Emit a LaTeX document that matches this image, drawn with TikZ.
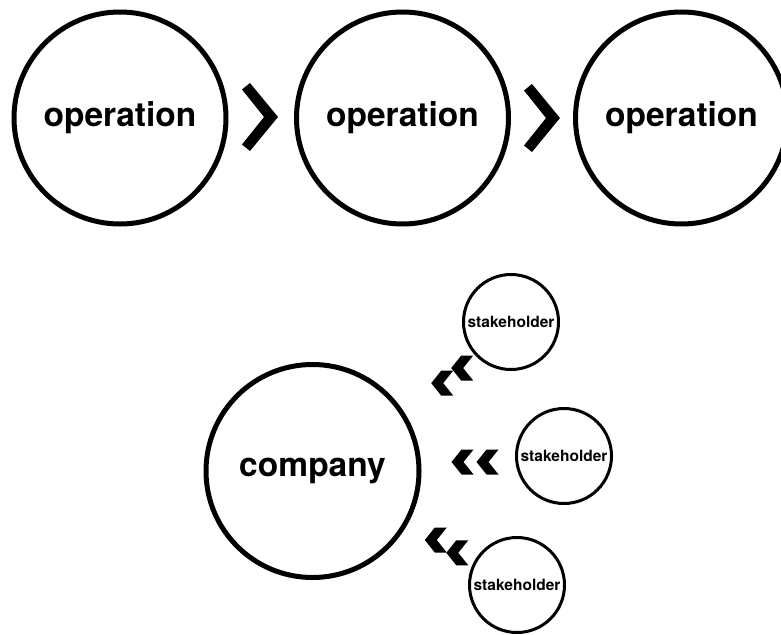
\documentclass[tikz,border=0pt]{standalone}
\usepackage{fontspec}
\setmainfont{TeX Gyre Heros}
\begin{document}
\begin{tikzpicture}[x=1pt,y=-1pt,
  bigring/.style={circle, draw, line width=5pt, inner sep=0pt, minimum size=212pt,
    font=\fontsize{33.5}{40}\selectfont\bfseries},
  smallring/.style={circle, draw, line width=3pt, inner sep=0pt, minimum size=95pt,
    font=\fontsize{15.5}{18}\selectfont\bfseries},
  bigchev/.pic={\fill (0,0) -- (-28,-34) -- (-36,-27.5) -- (-14,0) -- (-36,27.5) -- (-28,34) -- cycle;},
  smallchev/.pic={\fill (0,0) -- (10,-12.5) -- (22,-12.5) -- (12,0) -- (22,12.5) -- (10,12.5) -- cycle;},
  dchev/.pic={\pic at (-23.5,0) {smallchev}; \pic at (1.5,0) {smallchev};}
]
\useasboundingbox (0,0) rectangle (781,634);
\begin{scope}
\clip (0,0) rectangle (781,634);

% process chain
\node[bigring] (op1) at (120,118) {operation};
\node[bigring] (op2) at (402.5,118) {operation};
\node[bigring] (op3) at (681.5,118) {operation};
\pic at (278,117) {bigchev};
\pic at (560,118) {bigchev};

% company and its stakeholders
\node[bigring, minimum size=213pt] (company) at (312.5,471) {company};
\node[smallring] (s1) at (511,322) {stakeholder};
\node[smallring] (s2) at (564,456) {stakeholder};
\node[smallring] (s3) at (517,585) {stakeholder};
\pic[rotate=36.9] at (450,369) {dchev};
\pic at (475,462) {dchev};
\pic[rotate=-30.7] at (445,552) {dchev};
\end{scope}
\end{tikzpicture}
\end{document}
